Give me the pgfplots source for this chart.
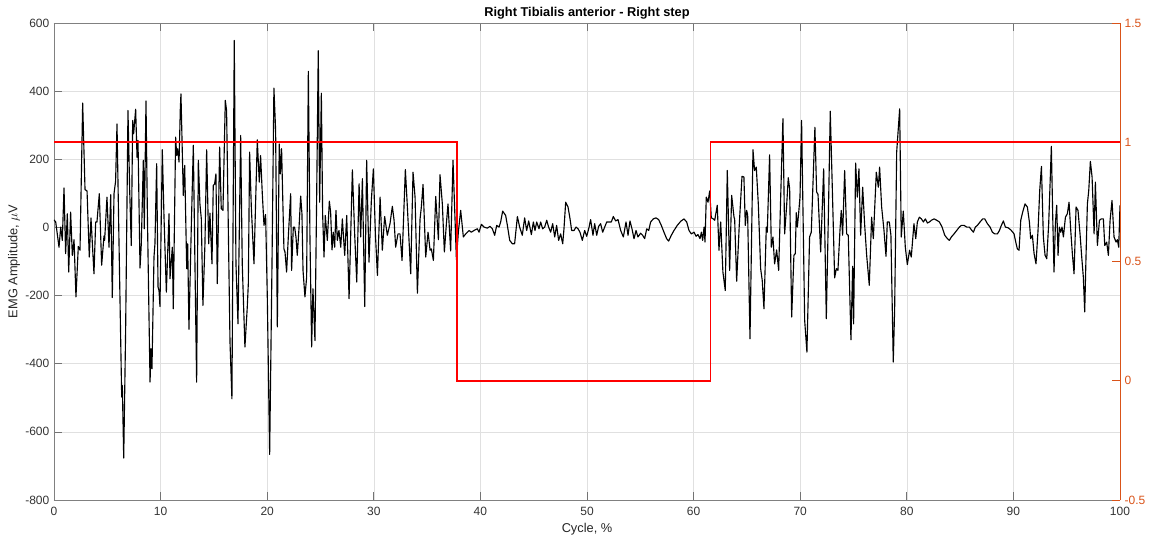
\documentclass[border=0pt]{standalone}
\usepackage{fontspec}
\setmainfont{Liberation Sans}
\usepackage{pgfplots}
\pgfplotsset{compat=1.18}
\definecolor{mlorange}{rgb}{0.85,0.325,0.098}
\pgfplotstableread{
x y
0.00 22
0.16 16
0.47 -58
0.63 1
0.78 -38
0.94 116
1.09 -77
1.25 40
1.38 -131
1.56 45
1.72 -82
1.88 -36
2.06 -204
2.28 -56
2.44 -67
2.69 365
2.91 111
3.10 107
3.31 -87
3.47 28
3.75 -136
3.91 16
4.03 16
4.25 99
4.47 -111
4.69 -25
4.75 -38
4.97 89
5.16 -58
5.32 96
5.47 -206
5.63 99
5.78 136
5.91 304
6.10 -48
6.35 -498
6.41 -464
6.54 -677
6.72 -302
6.94 343
7.10 109
7.25 -53
7.38 314
7.47 275
7.66 347
7.79 206
7.88 255
8.07 -119
8.19 -48
8.38 197
8.47 -4
8.63 371
8.76 40
8.91 -258
9.01 -454
9.10 -356
9.19 -415
9.38 -87
9.47 -48
9.63 187
9.76 -175
9.85 -185
9.94 -232
10.16 228
10.32 30
10.54 -190
10.79 40
10.88 -151
11.10 -58
11.19 -239
11.41 265
11.51 211
11.60 231
11.73 192
11.85 348
11.91 392
12.13 94
12.26 182
12.45 -121
12.54 -48
12.66 -299
12.88 1
13.07 241
13.20 -58
13.38 -454
13.54 197
13.69 69
13.82 25
13.97 -229
14.16 -48
14.32 228
14.51 -48
14.63 42
14.82 -107
14.94 123
15.07 128
15.19 157
15.32 -165
15.54 236
15.69 55
15.85 50
16.07 373
16.19 343
16.51 -336
16.69 -503
16.91 549
17.07 -107
17.26 -283
17.51 270
17.66 -107
17.91 -351
18.13 -234
18.23 -165
18.35 221
18.51 60
18.76 -107
19.07 257
19.26 133
19.38 211
19.54 99
19.70 6
19.85 38
20.01 -204
20.23 -666
20.45 -107
20.63 409
20.79 285
20.95 -292
21.13 245
21.23 157
21.35 231
21.57 -63
21.67 -72
21.82 -131
21.98 -28
22.20 99
22.29 -126
22.45 1
22.57 1
22.70 -28
22.82 -82
22.98 -4
23.14 92
23.26 40
23.36 -126
23.54 -204
23.70 -146
23.86 458
24.01 -28
24.17 -351
24.29 -180
24.48 -332
24.64 89
24.79 519
24.92 74
25.08 394
25.20 40
25.33 -87
25.45 35
25.64 -38
25.83 77
25.95 45
26.08 -66
26.20 -14
26.33 -58
26.45 50
26.58 -38
26.73 -9
26.90 -58
27.05 25
27.27 -82
27.46 35
27.68 -209
27.99 169
28.21 -23
28.40 -160
28.62 128
28.77 -28
28.93 143
29.15 -232
29.33 197
29.55 -102
29.77 79
29.96 172
30.15 -19
30.34 -141
30.59 89
30.80 -67
31.02 32
31.27 -23
31.52 11
31.74 62
31.90 21
32.05 -58
32.27 -19
32.46 -19
32.65 -97
32.96 170
33.15 60
33.46 -136
33.68 162
33.87 89
34.09 -193
34.34 25
34.46 60
34.62 126
34.87 -87
35.09 -14
35.28 -67
35.40 -63
35.59 -97
35.81 91
36.06 -36
36.21 155
36.43 69
36.62 -72
36.81 11
36.96 69
37.21 -69
37.43 197
37.75 -95
37.93 -14
38.15 50
38.40 -28
38.62 -19
38.94 -9
39.15 -14
39.40 -9
39.71 -4
39.87 -14
40.09 9
40.34 1
40.65 -2
40.90 3
41.12 -4
41.34 -23
41.53 6
41.75 1
41.90 16
42.09 48
42.37 35
42.53 6
42.75 -38
43.00 -48
43.21 -48
43.47 32
43.68 1
43.93 -23
44.15 28
44.34 -9
44.53 19
44.78 -21
44.97 16
45.12 -9
45.28 16
45.50 -4
45.65 16
45.84 -4
46.03 1
46.22 21
46.40 1
46.59 -14
46.78 11
46.97 -28
47.15 6
47.34 -38
47.53 -19
47.72 -48
47.84 -4
48.00 74
48.22 60
48.41 25
48.56 -9
48.78 -9
48.97 1
49.16 -4
49.34 -14
49.56 -38
49.78 -9
49.97 -26
50.16 -4
50.34 23
50.56 -23
50.72 11
50.91 -23
51.09 3
51.28 11
51.47 -14
51.66 1
51.85 16
52.06 16
52.28 16
52.47 32
52.69 19
52.91 23
53.16 -9
53.41 -28
53.66 16
53.85 -23
54.03 19
54.22 -4
54.41 -33
54.60 -9
54.78 -28
55.03 -17
55.22 -23
55.41 -33
55.60 -4
55.79 -9
55.97 16
56.22 25
56.47 28
56.72 23
56.97 6
57.22 -14
57.47 -33
57.66 -40
57.91 -23
58.16 -9
58.47 6
58.79 18
59.10 25
59.35 16
59.57 -9
59.79 -19
60.04 -14
60.23 -26
60.41 -21
60.60 -33
60.73 -14
60.85 -38
60.98 1
61.07 -43
61.19 89
61.35 74
61.51 107
61.66 28
61.85 25
61.98 21
62.22 65
62.38 -67
62.54 16
62.75 -131
62.97 -185
63.16 167
63.38 -126
63.57 94
63.79 30
63.85 25
64.04 -158
64.29 11
64.54 150
64.72 148
64.85 6
64.97 50
65.07 38
65.29 -327
65.57 228
65.72 167
65.88 177
66.07 69
66.29 -121
66.44 -156
66.60 -239
66.82 1
66.91 -14
67.13 213
67.29 -58
67.44 -28
67.60 -107
67.79 -66
67.98 -126
68.16 79
68.38 319
68.54 -19
68.73 65
68.88 146
69.01 113
69.20 -263
69.41 -82
69.54 -77
69.63 43
69.73 1
69.85 40
69.98 89
70.13 314
70.42 -273
70.63 -366
70.88 -28
71.04 -14
71.23 157
71.38 294
71.54 104
71.67 97
71.92 -72
72.20 172
72.45 -268
72.64 30
72.82 341
73.01 118
73.23 -148
73.39 -121
73.54 -126
73.73 -9
73.85 50
73.98 -23
74.17 167
74.36 -19
74.51 -23
74.76 -330
74.92 -114
75.01 -283
75.20 189
75.36 89
75.51 172
75.67 -23
75.86 118
76.04 11
76.23 -80
76.48 -170
76.70 30
76.86 -33
77.14 162
77.33 118
77.45 177
77.64 60
77.86 -9
78.05 -85
78.17 16
78.36 16
78.51 -23
78.73 -395
78.86 -239
79.05 221
79.33 348
79.48 -28
79.67 48
79.86 -58
80.05 -109
80.26 -67
80.42 -87
80.67 11
80.84 -33
80.99 16
81.18 30
81.37 25
81.56 16
81.74 25
81.93 13
82.12 16
82.31 21
82.56 25
82.81 21
83.06 16
83.31 1
83.56 -23
83.81 -33
83.99 -38
84.18 -28
84.43 -19
84.68 -9
84.93 1
85.12 6
85.37 6
85.62 1
85.87 1
86.06 -7
86.25 -14
86.43 1
86.62 6
86.87 16
87.12 25
87.31 25
87.56 11
87.81 1
88.03 -14
88.25 -19
88.50 -19
88.69 -9
88.87 6
89.06 19
89.25 1
89.50 -1
89.75 -7
89.94 -14
90.06 -19
90.22 -43
90.37 -63
90.53 -67
90.69 21
90.87 45
91.09 69
91.31 60
91.50 16
91.62 -33
91.78 -23
91.94 -77
92.12 -107
92.31 -9
92.47 109
92.63 179
92.81 -28
92.97 -82
93.13 -92
93.31 11
93.44 128
93.56 238
93.69 30
93.81 -131
93.94 11
94.06 65
94.19 -82
94.31 1
94.44 -14
94.56 1
94.69 -28
94.88 30
95.06 40
95.22 74
95.38 -9
95.53 -77
95.69 -136
95.88 60
96.06 50
96.25 -19
96.41 -87
96.56 -146
96.69 -248
96.81 -87
96.94 69
97.07 109
97.22 194
97.38 148
97.47 69
97.57 -19
97.69 133
97.88 -53
98.07 21
98.25 25
98.44 25
98.57 -53
98.75 -43
98.91 -82
99.07 21
99.25 79
99.44 -28
99.63 -43
99.75 -36
99.88 -58
100.00 65
}\emgdata
\begin{document}
\begin{tikzpicture}
\path[use as bounding box] (-40.5pt,-30pt) rectangle (825pt,375pt);
\begin{axis}[
  at={(0,0)}, anchor=south west,
  scale only axis, width=799.5pt, height=357.75pt,
  xmin=0, xmax=100, ymin=-800, ymax=600,
  xtick={0,10,...,100}, ytick={-800,-600,...,600},
  axis y line*=left,
  xtick pos=both,
  tick align=inside,
  major tick length=6pt,
  grid=major,
  major grid style={black!12, line width=0.4pt},
  axis line style={black!50, line width=0.5pt},
  tick style={black!55, line width=0.5pt},
  /pgf/number format/assume math mode=true,
  ticklabel style={font=\fontsize{9}{10}\selectfont, text=black!80},
  xticklabel style={yshift=-1.5pt},
  title={\textbf{Right Tibialis anterior - Right step}},
  title style={font=\fontsize{9.6}{11}\selectfont, yshift=-6.5pt},
  xlabel={Cycle, \%},
  ylabel={EMG Amplitude, $\mu$V},
  label style={font=\fontsize{9.6}{11}\selectfont, text=black!85},
  xlabel style={yshift=1pt},
  ylabel style={yshift=-3pt},
]
\addplot[black, line width=0.85pt, line join=round, mark=none] table[x=x,y=y] {\emgdata};
\end{axis}
\begin{axis}[
  at={(0,0)}, anchor=south west,
  scale only axis, width=799.5pt, height=357.75pt,
  xmin=0, xmax=100, ymin=-0.5, ymax=1.5,
  axis x line=none,
  axis y line*=right,
  ytick={-0.5,0,0.5,1,1.5},
  yticklabels={-0.5,0,0.5,1,1.5},
  tick align=inside,
  major tick length=6pt,
  y axis line style={mlorange, line width=0.5pt},
  ytick style={mlorange, line width=0.5pt},
  yticklabel style={font=\fontsize{9}{10}\selectfont, text=mlorange},
]
\addplot[red, line width=1.2pt, mark=none] coordinates {(0,1) (37.8,1) (37.8,0) (61.6,0) (61.6,1) (100,1)};
\end{axis}
\end{tikzpicture}
\end{document}
